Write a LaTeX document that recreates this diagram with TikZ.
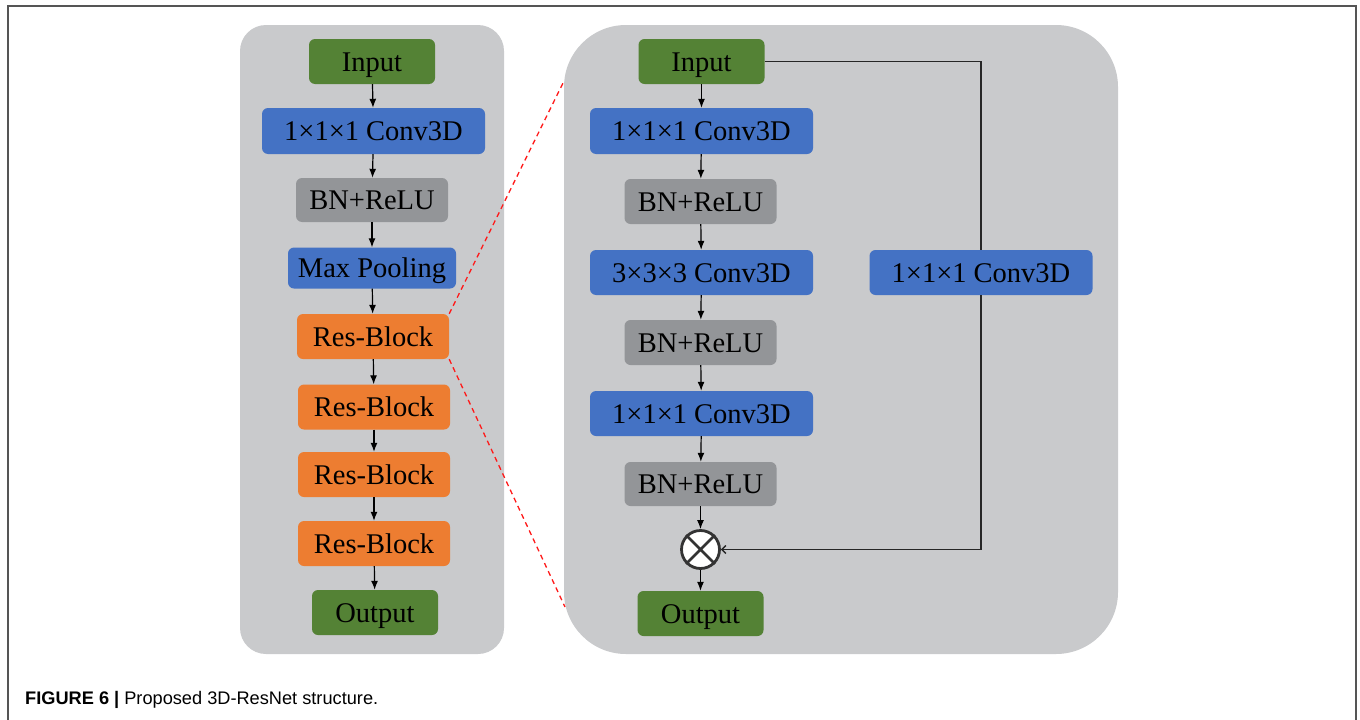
\documentclass[tikz,border=0pt]{standalone}
\usepackage{fontspec}
\setmainfont{Liberation Serif}
\newfontfamily\capfont{Liberation Sans}
\usetikzlibrary{arrows.meta}
\definecolor{panelgray}{HTML}{C9CACC}
\definecolor{bngray}{HTML}{939598}
\definecolor{convblue}{HTML}{4472C4}
\definecolor{resorange}{HTML}{ED7D31}
\definecolor{iogreen}{HTML}{548235}
\definecolor{framegray}{HTML}{555555}
\tikzset{
  box/.style={rounded corners=6pt, inner sep=0pt, font=\fontsize{28.5}{32}\selectfont, text=black, text height=24pt, text depth=5pt},
  convbox/.style={box, fill=convblue},
  bnbox/.style={box, fill=bngray},
  resbox/.style={box, fill=resorange, minimum width=152pt, minimum height=45pt},
  iobox/.style={box, fill=iogreen, minimum width=126pt, minimum height=45pt},
  flow/.style={line width=1.2pt, -{Latex[length=9pt,width=7pt]}},
  skip/.style={line width=1.4pt, draw=black!85},
  zoomline/.style={red!90!white, line width=1.3pt, dash pattern=on 5pt off 4pt},
  panel/.style={fill=panelgray, draw=none},
}
\begin{document}
\begin{tikzpicture}[x=1pt,y=-1pt]
\useasboundingbox (0,0) rectangle (1360,720);
% frame
\draw[framegray, line width=1.5pt] (8,720) -- (8,6) -- (1356,6) -- (1356,720);
% panels
\fill[panel, rounded corners=26pt] (240,25) rectangle (504,654);
\fill[panel, rounded corners=62pt] (564,25) rectangle (1118,654);

% left column
\node[iobox] (lin) at (372,61.5) {Input};
\node[convbox, minimum width=223pt, minimum height=46pt] (lc1) at (373.5,131) {1×1×1 Conv3D};
\node[bnbox, minimum width=152pt, minimum height=44pt] (lbn) at (372,200) {BN+ReLU};
\node[convbox, minimum width=168pt, minimum height=41pt] (lmp) at (372,268) {Max Pooling};
\node[resbox] (lr1) at (373,336.5) {Res-Block};
\node[resbox] (lr2) at (374,407) {Res-Block};
\node[resbox] (lr3) at (374,474.5) {Res-Block};
\node[resbox] (lr4) at (374,543.5) {Res-Block};
\node[iobox] (lout) at (375,612.5) {Output};
\draw[flow] (lin) -- (lc1);
\draw[flow] (lc1) -- (lbn);
\draw[flow] (lbn) -- (lmp);
\draw[flow] (lmp) -- (lr1);
\draw[flow] (lr1) -- (lr2);
\draw[flow] (lr2) -- (lr3);
\draw[flow] (lr3) -- (lr4);
\draw[flow] (lr4) -- (lout);

% right column
\node[iobox] (rin) at (701.5,61.5) {Input};
\node[convbox, minimum width=223pt, minimum height=46pt] (rc1) at (701.5,131) {1×1×1 Conv3D};
\node[bnbox, minimum width=152pt, minimum height=45pt] (rbn1) at (700.5,201.5) {BN+ReLU};
\node[convbox, minimum width=223pt, minimum height=45pt] (rc2) at (701.5,272.5) {3×3×3 Conv3D};
\node[bnbox, minimum width=152pt, minimum height=45pt] (rbn2) at (700.5,342.5) {BN+ReLU};
\node[convbox, minimum width=223pt, minimum height=45pt] (rc3) at (701.5,413.5) {1×1×1 Conv3D};
\node[bnbox, minimum width=152pt, minimum height=44pt] (rbn3) at (700.5,484) {BN+ReLU};
\node[circle, minimum size=38pt, inner sep=0pt, fill=white, draw=black!80, line width=2.8pt] (mul) at (700.5,549.5) {};
\draw[black!80, line width=2.8pt] (mul.45) -- (mul.225) (mul.135) -- (mul.315);
\node[iobox] (rout) at (700.5,613.5) {Output};
\node[convbox, minimum width=223pt, minimum height=45pt] (sc) at (981,272.5) {1×1×1 Conv3D};
\draw[flow] (rin) -- (rc1);
\draw[flow] (rc1) -- (rbn1);
\draw[flow] (rbn1) -- (rc2);
\draw[flow] (rc2) -- (rbn2);
\draw[flow] (rbn2) -- (rc3);
\draw[flow] (rc3) -- (rbn3);
\draw[flow] (rbn3) -- (mul);
\draw[flow] (mul) -- (rout);
\draw[skip] (rin.east) -| (sc.north);
\draw[skip, -{Straight Barb[length=4pt,width=8pt]}] (sc.south) |- (mul.east);

% zoom lines
\coordinate (zt) at (564,81);
\coordinate (zb) at (565,607);
\draw[zoomline] (lr1.north east) -- (zt);
\draw[zoomline] (lr1.south east) -- (zb);

% caption
\node[anchor=base west, inner sep=0pt, font=\capfont\fontsize{18.2}{21}\selectfont] (cap) at (25,704)
  {\textbf{FIGURE 6 |} Proposed 3D-ResNet structure.};
\end{tikzpicture}
\end{document}
